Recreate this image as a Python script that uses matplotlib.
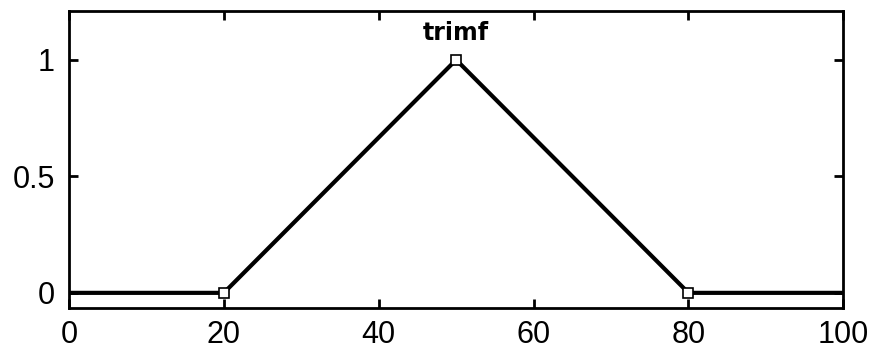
import matplotlib.pyplot as plt

plt.rcParams['font.family'] = ['Liberation Sans', 'DejaVu Sans']

# trimf membership function, parameters [20 50 80]
mf_x = [0, 20, 50, 80, 100]
mf_y = [0, 0, 1, 0, 0]
params = [20, 50, 80]
param_y = [0, 1, 0]
mf_name = 'trimf'

x_ticks = [0, 20, 40, 60, 80, 100]
y_ticks = [0, 0.5, 1]
y_ticklabels = ['0', '0.5', '1']

fig = plt.figure(figsize=(8.7, 3.5), dpi=100)
ax = fig.add_axes([0.0793, 0.12, 0.89, 0.849])

ax.plot(mf_x, mf_y, color='black', linewidth=3.0, solid_capstyle='butt',
        zorder=2)
ax.plot(params, param_y, linestyle='none', marker='s', markersize=7,
        markerfacecolor='white', markeredgecolor='black',
        markeredgewidth=1.2, zorder=3)

ax.text(50, 1.085, mf_name, ha='center', va='baseline', fontsize=17,
        fontweight='bold', family='DejaVu Sans')

ax.set_xlim(0, 100)
ax.set_ylim(-0.065, 1.21)
ax.set_xticks(x_ticks)
ax.set_yticks(y_ticks)
ax.set_yticklabels(y_ticklabels)
ax.tick_params(direction='in', length=6.5, width=2, labelsize=22,
               top=True, right=True)
ax.tick_params(axis='x', pad=8.5)
ax.tick_params(axis='y', pad=10)
for sp in ax.spines.values():
    sp.set_linewidth(2)

fig.savefig('out.png', dpi=100)
